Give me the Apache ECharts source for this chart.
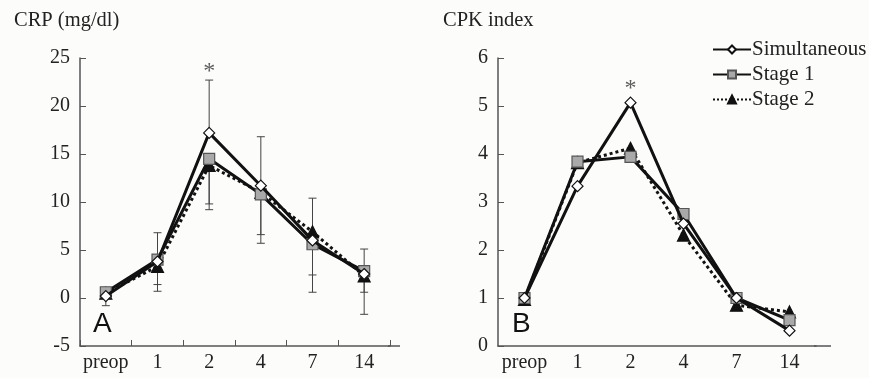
<!DOCTYPE html>
<html>
<head>
<meta charset="utf-8">
<script src="https://cdn.jsdelivr.net/npm/echarts@6/dist/echarts.min.js"></script>
<style>
  html, body { margin: 0; padding: 0; background: #fcfcfb; }
  #chart { width: 869px; height: 378px; }
</style>
</head>
<body>
<div id="chart"></div>
<script>
// categories (days)
const days = ['preop', '1', '2', '4', '7', '14']
const seriesNames = ['Simultaneous', 'Stage 1', 'Stage 2']

// A: CRP (mg/dl)
const crpSim = [0.2, 3.8, 17.2, 11.7, 6.0, 2.5]
const crpStage1 = [0.6, 4.0, 14.5, 10.8, 5.6, 2.8]
const crpStage2 = [0.5, 3.3, 13.8, 11.0, 6.9, 2.3]
// error bar ends (upper for Simultaneous, lower for the stages)
const crpSimUpper = [null, 6.8, 22.7, 16.8, 10.4, 5.1]
const crpStage1Lower = [-0.8, 0.7, 9.2, 5.7, 0.6, -1.7]
const crpStage2Lower = [null, 1.4, 9.8, 6.6, 2.4, 0.6]

// B: CPK index
const cpkSim = [1.0, 3.33, 5.07, 2.55, 1.0, 0.32]
const cpkStage1 = [1.0, 3.84, 3.94, 2.75, 1.0, 0.54]
const cpkStage2 = [0.97, 3.82, 4.12, 2.31, 0.85, 0.71]

// significance marks
const crpStar = [[2, 23.6]]
const cpkStar = [[2, 5.35]]

const serif = 'Liberation Serif'
const textColor = '#222'

function buildWhiskers(base, ends) {
  const out = []
  ends.forEach((v, i) => {
    if (v !== null) out.push([i, base[i], v])
  })
  return out
}

const whiskers = [].concat(
  buildWhiskers(crpSim, crpSimUpper),
  buildWhiskers(crpStage1, crpStage1Lower),
  buildWhiskers(crpStage2, crpStage2Lower)
)

function lineSeries(name, data, axisIdx) {
  const styles = {
    'Simultaneous': { symbol: 'diamond', size: 11, fill: '#ffffff', border: '#111', type: 'solid' },
    'Stage 1': { symbol: 'rect', size: 11, fill: '#a9a9a9', border: '#555', type: 'solid' },
    'Stage 2': { symbol: 'triangle', size: 12, fill: '#111', border: '#111', type: 'dotted' }
  }
  const s = styles[name]
  return {
    name: name,
    type: 'line',
    xAxisIndex: axisIdx,
    yAxisIndex: axisIdx,
    data: data,
    symbol: s.symbol,
    symbolSize: s.size,
    showAllSymbol: true,
    z: name === 'Simultaneous' ? 5 : 4,
    lineStyle: { color: '#111', width: 3, type: s.type },
    itemStyle: { color: s.fill, borderColor: s.border, borderWidth: 1.2 },
    emphasis: { disabled: true }
  }
}

function starSeries(data, axisIdx) {
  return {
    type: 'scatter',
    xAxisIndex: axisIdx,
    yAxisIndex: axisIdx,
    data: data,
    symbolSize: 0,
    silent: true,
    label: {
      show: true,
      position: 'inside',
      formatter: '*',
      fontFamily: serif,
      fontSize: 24,
      color: '#333'
    }
  }
}

const chart = echarts.init(document.getElementById('chart'))

const axisLabelStyle = { fontFamily: serif, fontSize: 20, color: textColor }

const option = {
  backgroundColor: '#fcfcfb',
  animation: false,
  title: [
    { text: 'CRP (mg/dl)', left: 9, top: 5, textStyle: { fontFamily: serif, fontSize: 20.5, fontWeight: 'normal', color: textColor } },
    { text: 'CPK index', left: 438, top: 5, textStyle: { fontFamily: serif, fontSize: 20.5, fontWeight: 'normal', color: textColor } }
  ],
  legend: {
    data: seriesNames,
    orient: 'vertical',
    left: 707,
    top: 34,
    itemWidth: 38,
    itemHeight: 10,
    itemGap: 4,
    textStyle: { fontFamily: serif, fontSize: 21, color: textColor, padding: [0, 0, 0, -4] },
    selectedMode: false
  },
  grid: [
    { left: 80, top: 58, width: 310, height: 288 },
    { left: 498, top: 58, width: 318, height: 288 }
  ],
  xAxis: [
    {
      type: 'category', gridIndex: 0, data: days, boundaryGap: true,
      axisLine: { onZero: false, lineStyle: { color: '#555', width: 1.5 } },
      axisTick: { show: true, inside: true, length: 6, lineStyle: { color: '#555' } },
      axisLabel: Object.assign({ margin: 7, interval: 0 }, axisLabelStyle)
    },
    {
      type: 'category', gridIndex: 1, data: days, boundaryGap: true,
      axisLine: { onZero: false, lineStyle: { color: '#555', width: 1.5 } },
      axisTick: { show: false },
      axisLabel: Object.assign({ margin: 7, interval: 0 }, axisLabelStyle)
    }
  ],
  yAxis: [
    {
      type: 'value', gridIndex: 0, min: -5, max: 25, interval: 5,
      splitLine: { show: false },
      axisLine: { show: true, lineStyle: { color: '#555', width: 1.5 } },
      axisTick: { show: true, inside: true, length: 6, lineStyle: { color: '#555' } },
      axisLabel: Object.assign({ margin: 10 }, axisLabelStyle)
    },
    {
      type: 'value', gridIndex: 1, min: 0, max: 6, interval: 1,
      splitLine: { show: false },
      axisLine: { show: true, lineStyle: { color: '#555', width: 1.5 } },
      axisTick: { show: true, inside: true, length: 6, lineStyle: { color: '#555' } },
      axisLabel: Object.assign({ margin: 10 }, axisLabelStyle)
    }
  ],
  graphic: [
    // axis lines run a bit past the last category in the original
    { type: 'line', shape: { x1: 388, y1: 346, x2: 400, y2: 346 }, style: { stroke: '#555', lineWidth: 1.5 } },
    { type: 'line', shape: { x1: 814, y1: 346, x2: 831, y2: 346 }, style: { stroke: '#555', lineWidth: 1.5 } },
    { type: 'text', left: 93, top: 310, style: { text: 'A', font: '28px Liberation Sans', fill: '#111' } },
    { type: 'text', left: 512, top: 310, style: { text: 'B', font: '28px Liberation Sans', fill: '#111' } }
  ],
  series: [
    {
      type: 'custom',
      xAxisIndex: 0,
      yAxisIndex: 0,
      data: whiskers,
      z: 1,
      silent: true,
      renderItem: function (params, api) {
        const p0 = api.coord([api.value(0), api.value(1)])
        const p1 = api.coord([api.value(0), api.value(2)])
        const cap = 4
        return {
          type: 'group',
          children: [
            { type: 'line', shape: { x1: p0[0], y1: p0[1], x2: p1[0], y2: p1[1] }, style: { stroke: '#444', lineWidth: 1 } },
            { type: 'line', shape: { x1: p1[0] - cap, y1: p1[1], x2: p1[0] + cap, y2: p1[1] }, style: { stroke: '#444', lineWidth: 1 } }
          ]
        }
      }
    },
    lineSeries('Stage 2', crpStage2, 0),
    lineSeries('Stage 1', crpStage1, 0),
    lineSeries('Simultaneous', crpSim, 0),
    lineSeries('Stage 2', cpkStage2, 1),
    lineSeries('Stage 1', cpkStage1, 1),
    lineSeries('Simultaneous', cpkSim, 1),
    starSeries(crpStar, 0),
    starSeries(cpkStar, 1)
  ]
}

chart.setOption(option)
</script>
</body>
</html>
